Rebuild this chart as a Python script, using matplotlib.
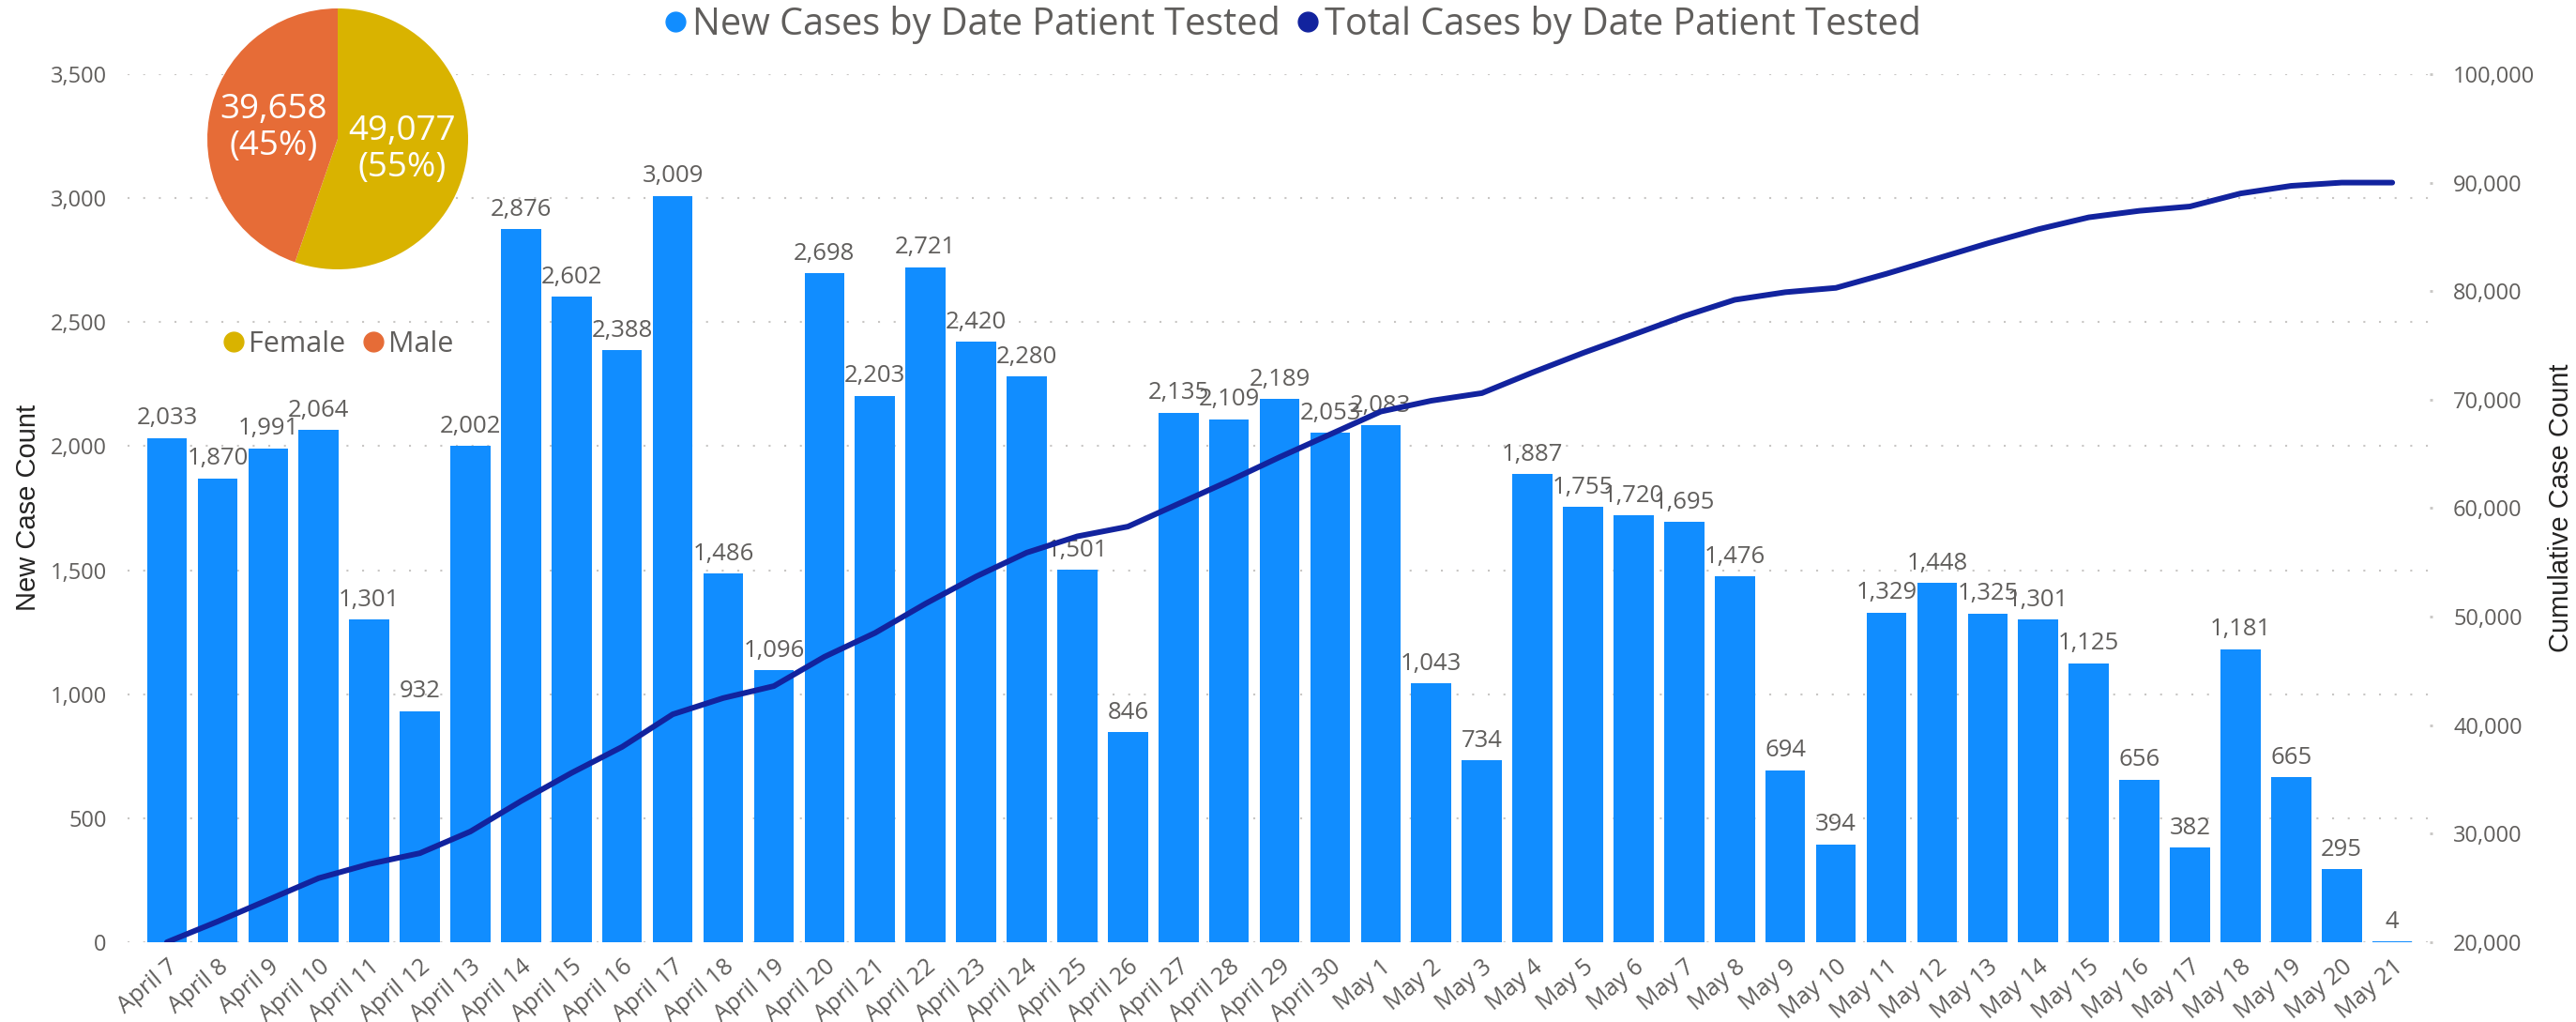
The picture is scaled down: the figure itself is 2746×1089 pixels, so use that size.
import numpy as np
import matplotlib
matplotlib.use("Agg")
import matplotlib.pyplot as plt
from matplotlib.lines import Line2D
from matplotlib.ticker import FuncFormatter, MultipleLocator

plt.rcParams['font.family'] = ['Open Sans', 'DejaVu Sans']

# data
dates = [f"April {d}" for d in range(7, 31)] + [f"May {d}" for d in range(1, 22)]
new_cases = [2033, 1870, 1991, 2064, 1301, 932, 2002, 2876, 2602, 2388, 3009, 1486,
             1096, 2698, 2203, 2721, 2420, 2280, 1501, 846, 2135, 2109, 2189, 2053,
             2083, 1043, 734, 1887, 1755, 1720, 1695, 1476, 694, 394, 1329, 1448,
             1325, 1301, 1125, 656, 382, 1181, 665, 295, 4]
total_cases = [20000, 21900, 23900, 25900, 27200, 28200, 30200, 33000, 35600, 38000,
               41000, 42500, 43600, 46300, 48500, 51200, 53700, 55900, 57400, 58300,
               60400, 62500, 64700, 66800, 68900, 69900, 70600, 72500, 74300, 76000,
               77700, 79200, 79900, 80300, 81600, 83000, 84400, 85700, 86800, 87400,
               87800, 89000, 89700, 90000, 90000]
sex_labels = ["Female", "Male"]
sex_counts = [49077, 39658]

bar_blue = "#118DFF"
line_navy = "#12239E"
sex_colors = ["#D9B300", "#E66C37"]
grey = "#605E5C"
grid_c = "#C8C6C4"

fig = plt.figure(figsize=(27.46, 10.89), dpi=100)
ax = fig.add_axes([0.0495, 0.0781, 0.8937, 0.8494])
x = np.arange(len(dates))

ax.bar(x, new_cases, width=0.79, color=bar_blue, zorder=2)
ax.set_xlim(-0.78, 44.74)
ax.set_ylim(0, 3500)
fmt = FuncFormatter(lambda v, p: f"{v:,.0f}")
ax.yaxis.set_major_locator(MultipleLocator(500))
ax.yaxis.set_major_formatter(fmt)
ax.grid(axis='y', linestyle=(0, (1, 7)), linewidth=1.5, color=grid_c, zorder=0)
ax.set_axisbelow(True)
for s in ax.spines.values():
    s.set_visible(False)
ax.tick_params(axis='y', length=0, pad=16, labelsize=17, labelcolor=grey)
ax.set_xticks(x)
ax.set_xticklabels(dates, rotation=40, ha='right', rotation_mode='anchor',
                   fontsize=18, color=grey)
ax.tick_params(axis='x', length=0, pad=10)

for xi, v in zip(x, new_cases):
    ax.annotate(f"{v:,}", (xi, v), xytext=(0, 6), textcoords='offset points',
                ha='center', va='bottom', fontsize=18.5, color=grey)

ax2 = ax.twinx()
ax2.plot(x, total_cases, color=line_navy, lw=4.3, solid_capstyle='round',
         solid_joinstyle='round')
ax2.set_ylim(20000, 100000)
ax2.yaxis.set_major_locator(MultipleLocator(10000))
ax2.yaxis.set_major_formatter(fmt)
ax2.tick_params(axis='y', length=2, width=2, color=grid_c, pad=16,
                labelsize=17, labelcolor=grey)
for s in ax2.spines.values():
    s.set_visible(False)

fig.text(30 / 2746, 0.503, "New Case Count", rotation=90, va='center', ha='center',
         fontsize=21, color='#252423', family=['Liberation Sans', 'DejaVu Sans'])
fig.text(2730 / 2746, 0.503, "Cumulative Case Count", rotation=90, va='center',
         ha='center', fontsize=21, color='#252423', family=['Liberation Sans', 'DejaVu Sans'])

# main legend
handles = [Line2D([], [], ls='', marker='o', ms=15, color=bar_blue),
           Line2D([], [], ls='', marker='o', ms=15, color=line_navy)]
fig.legend(handles, ["New Cases by Date Patient Tested", "Total Cases by Date Patient Tested"],
           loc='center', bbox_to_anchor=(0.5015, 0.976), ncol=2, frameon=False,
           fontsize=28.5, handletextpad=0.1, columnspacing=0.4, handlelength=0.7,
           labelcolor=grey)

# pie inset
pax = fig.add_axes([(360 - 139) / 2746, 1 - (148 + 139) / 1089, 278 / 2746, 278 / 1089])
total = sum(sex_counts)
pax.pie(sex_counts, colors=sex_colors, startangle=90, counterclock=False,
        autopct=lambda p: f"{p * total / 100:,.0f}\n({p:.0f}%)", pctdistance=0.5,
        textprops=dict(color='white', fontsize=26.5, linespacing=1.1))
pax.set_xlim(-1, 1)
pax.set_ylim(-1, 1)
pax.set_aspect('equal')

sex_handles = [Line2D([], [], ls='', marker='o', ms=15, color=c) for c in sex_colors]
fig.legend(sex_handles, sex_labels, loc='center',
           bbox_to_anchor=(360 / 2746, 1 - 367 / 1089), ncol=2, frameon=False,
           fontsize=22, handletextpad=0.1, columnspacing=0.6, handlelength=0.8,
           labelcolor=grey)

fig.savefig("out.png", dpi=100)
